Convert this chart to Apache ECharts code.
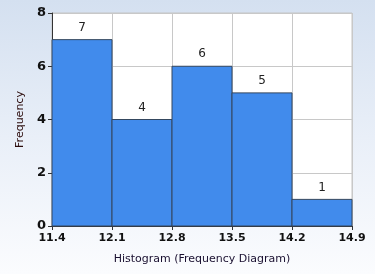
<!DOCTYPE html>
<html>
<head>
<meta charset="utf-8">
<script src="https://cdn.jsdelivr.net/npm/echarts@6/dist/echarts.min.js"></script>
<style>
  html, body { margin: 0; padding: 0; }
  body { background: linear-gradient(to bottom, #d4e0f0 0%, #e9eff8 50%, #fbfcfe 100%); }
  #main { width: 375px; height: 274px; }
</style>
</head>
<body>
<div id="main"></div>
<script>
var binEdges = ['11.4', '12.1', '12.8', '13.5', '14.2', '14.9'];
var frequencies = [7, 4, 6, 5, 1];
var yTicks = [0, 2, 4, 6, 8];

var myChart = echarts.init(document.getElementById('main'));

var bins = frequencies.map(function (f, i) { return [i, i + 1, f]; });

option = {
    backgroundColor: 'transparent',
    animation: false,
    grid: {
        left: 52, right: 23, top: 13, bottom: 48,
        show: true, backgroundColor: '#ffffff', borderColor: '#c4c4c4', borderWidth: 1
    },
    xAxis: {
        type: 'value',
        min: 0, max: binEdges.length - 1, interval: 1,
        name: 'Histogram (Frequency Diagram)',
        nameLocation: 'middle', nameGap: 28,
        nameTextStyle: { color: '#1a1030', fontSize: 11, fontFamily: 'DejaVu Sans' },
        axisLine: { lineStyle: { color: '#333', width: 1 } },
        axisTick: { show: true, length: 4, lineStyle: { color: '#333' } },
        axisLabel: {
            color: '#111', fontSize: 11, fontWeight: 'bold', fontFamily: 'DejaVu Sans', margin: 7,
            formatter: function (v) { return binEdges[v]; }
        },
        splitLine: { show: true, lineStyle: { color: '#c8c8c8' } }
    },
    yAxis: {
        type: 'value',
        min: yTicks[0], max: yTicks[yTicks.length - 1], interval: 2,
        name: 'Frequency',
        nameLocation: 'middle', nameGap: 26,
        nameTextStyle: { color: '#2a0a0a', fontSize: 11, fontFamily: 'DejaVu Sans' },
        axisLine: { show: true, lineStyle: { color: '#333', width: 1 } },
        axisTick: { show: true, length: 4, lineStyle: { color: '#333' } },
        axisLabel: { color: '#111', fontSize: 13, fontWeight: 'bold', fontFamily: 'DejaVu Sans', margin: 6 },
        splitLine: { show: true, lineStyle: { color: '#c8c8c8' } }
    },
    series: [{
        type: 'custom',
        data: bins,
        encode: { x: [0, 1], y: 2 },
        renderItem: function (params, api) {
            var p0 = api.coord([api.value(0), api.value(2)]);
            var p1 = api.coord([api.value(1), 0]);
            return {
                type: 'group',
                children: [{
                    type: 'rect',
                    shape: { x: p0[0], y: p0[1], width: p1[0] - p0[0], height: p1[1] - p0[1] },
                    style: { fill: '#418bec', stroke: '#34475f', lineWidth: 1 }
                }, {
                    type: 'text',
                    style: {
                        text: String(api.value(2)),
                        x: (p0[0] + p1[0]) / 2, y: p0[1] - 6,
                        textAlign: 'center', textVerticalAlign: 'bottom',
                        fill: '#222', fontSize: 12, fontFamily: 'DejaVu Sans'
                    }
                }]
            };
        }
    }]
};

myChart.setOption(option);
</script>
</body>
</html>
